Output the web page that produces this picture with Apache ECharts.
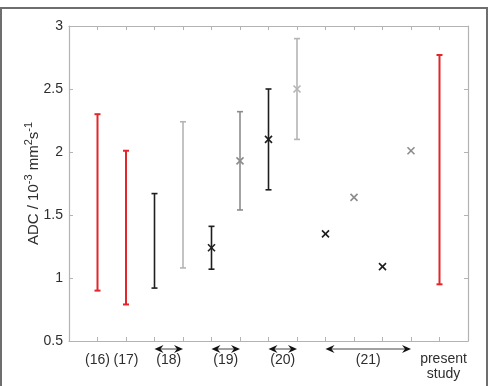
<!DOCTYPE html>
<html>
<head>
<meta charset="utf-8">
<script src="https://cdn.jsdelivr.net/npm/echarts@6/dist/echarts.min.js"></script>
<style>
  html, body { margin: 0; padding: 0; background: #fff; }
  #chart { width: 493px; height: 386px; }
</style>
</head>
<body>
<div id="chart"></div>
<script>
  // study positions along the x axis (1..13)
  var positions = [1, 2, 3, 4, 5, 6, 7, 8, 9, 10, 11, 12, 13];
  // range low / high of ADC (10^-3 mm^2/s), null = no range reported
  var lowVals  = [0.90, 0.79, 0.92, 1.08, 1.07, 1.54, 1.70, 2.10, null, null, null, null, 0.95];
  var highVals = [2.30, 2.01, 1.67, 2.24, 1.41, 2.32, 2.50, 2.90, null, null, null, null, 2.77];
  // mean values marked with a cross
  var meanVals = [null, null, null, null, 1.24, 1.93, 2.10, 2.50, 1.35, 1.64, 1.09, 2.01, null];
  // kind of each entry (picks the colour)
  var kinds = ['red', 'red', 'black', 'light', 'black', 'gray', 'black', 'light', 'black', 'gray', 'black', 'gray', 'red'];

  // reference groups below the axis
  var groupLabels = ['(16)', '(17)', '(18)', '(19)', '(20)', '(21)', 'present\nstudy'];
  var groupStart  = [1, 2, 3, 5, 7, 9, 13];
  var groupEnd    = [1, 2, 4, 6, 8, 12, 13];

  var colorMap = { red: '#e3262b', black: '#1e1e1e', gray: '#8c8c8c', light: '#b4b4b4' };
  var font = 'Liberation Sans, Arial, Helvetica, sans-serif';
  var textColor = '#2e2e2e';

  var barData = [];
  var crossData = [];
  for (var i = 0; i < positions.length; i++) {
    if (lowVals[i] != null) {
      barData.push({ value: [positions[i], lowVals[i], highVals[i]], itemStyle: { color: colorMap[kinds[i]] } });
    }
    if (meanVals[i] != null) {
      crossData.push({ value: [positions[i], meanVals[i]], itemStyle: { color: colorMap[kinds[i]] } });
    }
  }
  var groupData = [];
  for (var g = 0; g < groupLabels.length; g++) {
    groupData.push({ value: [groupStart[g], groupEnd[g]], name: groupLabels[g] });
  }

  function renderBar(params, api) {
    var x = api.value(0);
    var p1 = api.coord([x, api.value(1)]);
    var p2 = api.coord([x, api.value(2)]);
    var c = api.visual('color');
    var w = c === colorMap.red ? 2 : 1.6;
    var cap = 3;
    var st = { stroke: c, lineWidth: w };
    return {
      type: 'group',
      children: [
        { type: 'line', shape: { x1: p1[0], y1: p1[1], x2: p2[0], y2: p2[1] }, style: st },
        { type: 'line', shape: { x1: p1[0] - cap, y1: p1[1], x2: p1[0] + cap, y2: p1[1] }, style: st },
        { type: 'line', shape: { x1: p2[0] - cap, y1: p2[1], x2: p2[0] + cap, y2: p2[1] }, style: st }
      ]
    };
  }

  function renderCross(params, api) {
    var p = api.coord([api.value(0), api.value(1)]);
    var c = api.visual('color');
    var s = 3.5;
    var st = { stroke: c, lineWidth: 1.6 };
    return {
      type: 'group',
      children: [
        { type: 'line', shape: { x1: p[0] - s, y1: p[1] - s, x2: p[0] + s, y2: p[1] + s }, style: st },
        { type: 'line', shape: { x1: p[0] - s, y1: p[1] + s, x2: p[0] + s, y2: p[1] - s }, style: st }
      ]
    };
  }

  function renderGroup(params, api) {
    var a = api.coord([api.value(0), 0.5]);
    var b = api.coord([api.value(1), 0.5]);
    var yArrow = a[1] + 8;
    var yText = a[1] + 19;
    var name = groupLabels[params.dataIndex];
    var twoLine = name.indexOf('\n') >= 0;
    var children = [];
    children.push({
      type: 'text',
      style: {
        x: (a[0] + b[0]) / 2 + (twoLine ? 4 : 0),
        y: yText + (twoLine ? 7 : 0),
        text: name,
        align: 'center',
        verticalAlign: 'middle',
        fill: textColor,
        font: '14px ' + font,
        lineHeight: 15
      }
    });
    if (api.value(1) > api.value(0)) {
      var hl = 9, hw = 4;
      children.push({ type: 'line', shape: { x1: a[0] + 3, y1: yArrow, x2: b[0] - 3, y2: yArrow }, style: { stroke: '#444', lineWidth: 1 } });
      children.push({ type: 'polygon', shape: { points: [[a[0], yArrow], [a[0] + hl, yArrow - hw], [a[0] + hl - 3, yArrow], [a[0] + hl, yArrow + hw]] }, style: { fill: '#111' } });
      children.push({ type: 'polygon', shape: { points: [[b[0], yArrow], [b[0] - hl, yArrow - hw], [b[0] - hl + 3, yArrow], [b[0] - hl, yArrow + hw]] }, style: { fill: '#111' } });
    }
    return { type: 'group', children: children };
  }

  var axisGray = '#b3b3b3';
  var chart = echarts.init(document.getElementById('chart'));
  var option = {
    animation: false,
    backgroundColor: '#fff',
    grid: { left: 69, right: 25, top: 26, bottom: 45 },
    graphic: [{
      type: 'rect',
      shape: { x: 1, y: 8, width: 486, height: 400 },
      style: { fill: 'none', stroke: '#6e6e6e', lineWidth: 2 },
      silent: true,
      z: -10
    }],
    xAxis: [{
      type: 'value', min: 0, max: 14, interval: 1, position: 'bottom',
      axisLine: { show: true, lineStyle: { color: axisGray, width: 1.2 } },
      axisTick: { show: true, inside: true, length: 4, lineStyle: { color: axisGray } },
      axisLabel: { show: false },
      splitLine: { show: false }
    }, {
      type: 'value', min: 0, max: 14, interval: 1, position: 'top',
      axisLine: { show: true, onZero: false, lineStyle: { color: axisGray, width: 1.2 } },
      axisTick: { show: true, inside: true, length: 4, lineStyle: { color: axisGray } },
      axisLabel: { show: false },
      splitLine: { show: false }
    }],
    yAxis: [{
      type: 'value', min: 0.5, max: 3, interval: 0.5, position: 'left',
      axisLine: { show: true, lineStyle: { color: axisGray, width: 1.2 } },
      axisTick: { show: true, inside: true, length: 4, lineStyle: { color: axisGray } },
      axisLabel: { color: textColor, fontSize: 14, fontFamily: font, margin: 6 },
      splitLine: { show: false },
      name: '{n|ADC / 10}{s|-3}{n| mm}{s|2}{n|s}{s|-1}',
      nameLocation: 'middle',
      nameRotate: 90,
      nameGap: 28,
      nameMoveOverlap: false,
      nameTextStyle: {
        color: textColor,
        fontFamily: font,
        rich: {
          n: { fontSize: 15, fontFamily: font, color: textColor, verticalAlign: 'bottom', lineHeight: 18 },
          s: { fontSize: 11, fontFamily: font, color: textColor, verticalAlign: 'top', lineHeight: 18 }
        }
      }
    }, {
      type: 'value', min: 0.5, max: 3, interval: 0.5, position: 'right',
      axisLine: { show: true, onZero: false, lineStyle: { color: axisGray, width: 1.2 } },
      axisTick: { show: true, inside: true, length: 4, lineStyle: { color: axisGray } },
      axisLabel: { show: false },
      splitLine: { show: false }
    }],
    series: [{
      type: 'custom',
      name: 'range',
      xAxisIndex: 0, yAxisIndex: 0,
      renderItem: renderBar,
      data: barData,
      z: 3
    }, {
      type: 'custom',
      name: 'mean',
      xAxisIndex: 0, yAxisIndex: 0,
      renderItem: renderCross,
      data: crossData,
      z: 4
    }, {
      type: 'custom',
      name: 'groups',
      xAxisIndex: 0, yAxisIndex: 0,
      renderItem: renderGroup,
      clip: false,
      data: groupData,
      z: 5
    }]
  };
  chart.setOption(option);
</script>
</body>
</html>
